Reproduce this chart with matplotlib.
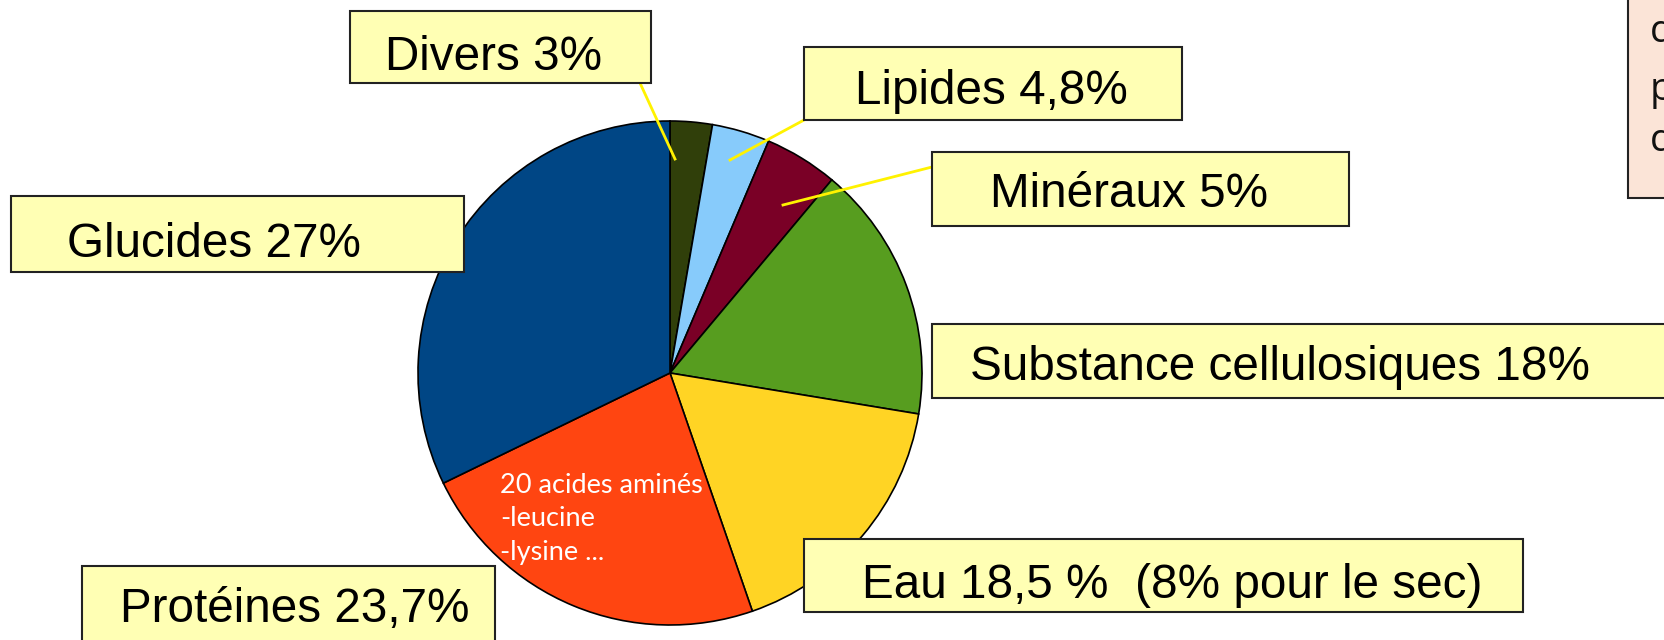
import matplotlib.pyplot as plt
from matplotlib.patches import Rectangle

# slice sizes as drawn (clockwise from top)
parts = ["Divers", "Lipides", "Minéraux", "Substance cellulosiques", "Eau", "Protéines", "Glucides"]
sizes = [2.7, 3.7, 4.7, 16.5, 17.1, 23.1, 32.2]
colors = ["#303F0A", "#87CBFB", "#7A0026", "#579D1F", "#FFD424", "#FF4511", "#004685"]

labels = ["Divers 3%", "Lipides 4,8%", "Minéraux 5%", "Substance cellulosiques 18%",
          "Eau 18,5 %  (8% pour le sec)", "Protéines 23,7%", "Glucides 27%"]
inner_text = "20 acides aminés\n-leucine\n-lysine ..."

W, H = 1665, 640

# layout in pixel units (x, y from top)
boxes = [(350, 11, 301, 72), (804, 47, 378, 73), (932, 152, 417, 74), (932, 324, 760, 74),
         (804, 539, 719, 73), (82, 566, 413, 80), (11, 196, 453, 76)]
text_pos = [(385, 57), (855, 91), (990, 195), (970, 368), (862, 586), (120, 609), (67, 245)]
leaders = {0: ((640, 83), (675, 159)), 1: ((804, 120), (730, 160)), 2: ((932, 167), (783, 205))}

fig = plt.figure(figsize=(W / 100, H / 100), dpi=100)
ax = fig.add_axes([0, 0, 1, 1])


def fy(y):
    return H - y


ax.pie(sizes, colors=colors, startangle=90, counterclock=False,
       center=(670, fy(373)), radius=252,
       wedgeprops=dict(edgecolor="black", linewidth=1.2), frame=True)
ax.set_xlim(0, W)
ax.set_ylim(0, H)
ax.set_aspect("equal")
ax.axis("off")

ax.text(500, fy(519), inner_text, color="white", fontsize=19.5, family="Lato",
        ha="left", va="center", linespacing=1.42, zorder=5)

for i, (x, y, w, h) in enumerate(boxes):
    ax.add_patch(Rectangle((x, fy(y + h)), w, h, facecolor="#FFFFB4",
                           edgecolor="#222222", linewidth=1.5, zorder=6))
    tx, ty = text_pos[i]
    ax.text(tx, fy(ty), labels[i], fontsize=34.3, family="Liberation Sans",
            ha="left", va="center", color="black", zorder=7)

for i, ((x1, y1), (x2, y2)) in leaders.items():
    ax.plot([x1, x2], [fy(y1), fy(y2)], color="#FFF200", linewidth=2, zorder=4)

# partial note box at the right edge
ax.add_patch(Rectangle((1628, fy(198)), 60, 210, facecolor="#FBE4D7",
                       edgecolor="#222222", linewidth=1.5, zorder=6, clip_on=True))
for ch, yy in zip(["d", "p", "d"], [32, 90, 141]):
    ax.text(1650, fy(yy), ch, fontsize=28, family="Open Sans", ha="left",
            va="center", color="#111111", zorder=7)

fig.savefig("out.png", dpi=100)
